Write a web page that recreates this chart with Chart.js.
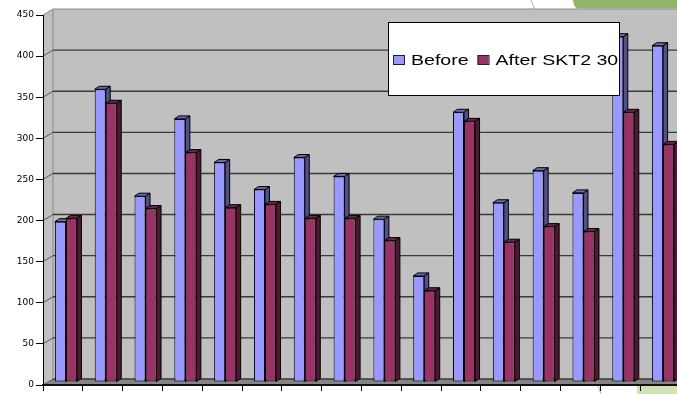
<!DOCTYPE html>
<html>
<head>
<meta charset="utf-8">
<script src="https://cdn.jsdelivr.net/npm/chart.js@4.4.1/dist/chart.umd.min.js"></script>
<style>
  html, body { margin: 0; padding: 0; background: #fff; overflow: hidden; width: 677px; height: 394px; }
  #wrap { position: relative; width: 700px; height: 394px; }
  canvas { display: block; }
</style>
</head>
<body>
<div id="wrap"><canvas id="chart" width="700" height="394"></canvas></div>
<script>
// Sixteen measurement points, before and after treatment
const categories = ['1', '2', '3', '4', '5', '6', '7', '8', '9', '10', '11', '12', '13', '14', '15', '16'];
const beforeValues = [195, 356, 226, 320, 267, 234, 273, 250, 198, 129, 328, 218, 257, 230, 420, 409];
const afterValues  = [199, 339, 211, 279, 212, 216, 199, 199, 172, 111, 317, 170, 189, 183, 328, 289];
const seriesNames = ['Before', 'After SKT2 30'];
const yTicks = [0, 50, 100, 150, 200, 250, 300, 350, 400, 450];

// Colour sets: front, top and side faces of each column
const palette = [
  { front: '#9999FF', top: '#6B6BB3', side: '#50508A' },
  { front: '#993366', top: '#6B2447', side: '#4D1A33' }
];

// 3D projection: wall depth, position of the columns in depth, column depth
const WALL = { x: 10, y: -6 };
const SHIFT = { x: 3, y: -3 };
const COL = { x: 4.5, y: -3 };

function poly(ctx, pts, fill, stroke, lw) {
  ctx.beginPath();
  ctx.moveTo(pts[0][0], pts[0][1]);
  for (let i = 1; i < pts.length; i++) ctx.lineTo(pts[i][0], pts[i][1]);
  ctx.closePath();
  if (fill) { ctx.fillStyle = fill; ctx.fill(); }
  if (stroke) { ctx.strokeStyle = stroke; ctx.lineWidth = lw || 1; ctx.stroke(); }
}

// Walls, floor and back-wall gridlines
const walls = {
  id: 'walls',
  beforeDraw(chart) {
    const { ctx, chartArea: a, scales: { y } } = chart;
    const L = a.left, R = a.right, T = a.top, B = a.bottom;
    const dx = WALL.x, dy = WALL.y;
    ctx.save();

    // background decoration
    ctx.fillStyle = '#8fb66a';
    ctx.beginPath();
    ctx.moveTo(573, 0); ctx.lineTo(700, 0); ctx.lineTo(700, 8.5); ctx.lineTo(578, 8.5);
    ctx.quadraticCurveTo(574, 8.5, 573, 0);
    ctx.fill();
    ctx.fillStyle = '#cfe4b2';
    ctx.fillRect(637, 386, 63, 8);
    ctx.strokeStyle = '#b5b5b5'; ctx.lineWidth = 1;
    ctx.beginPath(); ctx.moveTo(531, 0); ctx.lineTo(534.5, 9); ctx.stroke();
    ctx.beginPath(); ctx.moveTo(598, 386); ctx.lineTo(601, 394); ctx.stroke();

    // back wall
    ctx.fillStyle = '#c0c0c0';
    ctx.fillRect(L + dx, T + dy, R - L + 20, B - T);
    // side wall
    poly(ctx, [[L, T], [L + dx, T + dy], [L + dx, B + dy], [L, B]], '#c0c0c0');
    // floor
    poly(ctx, [[L, B], [L + dx, B + dy], [R + dx + 20, B + dy], [R + 20, B]], '#858585');

    // wall edges
    ctx.strokeStyle = '#8a8a8a'; ctx.lineWidth = 1;
    ctx.beginPath();
    ctx.moveTo(L, T); ctx.lineTo(L + dx, T + dy); ctx.lineTo(R + dx + 20, T + dy);
    ctx.moveTo(L + dx, T + dy); ctx.lineTo(L + dx, B + dy);
    ctx.stroke();

    // gridlines: diagonal on the side wall, horizontal on the back wall
    yTicks.forEach(v => {
      if (v === yTicks[yTicks.length - 1]) return;
      const py = y.getPixelForValue(v);
      ctx.strokeStyle = '#555';
      ctx.lineWidth = 1;
      ctx.beginPath(); ctx.moveTo(L, py); ctx.lineTo(L + dx, py + dy); ctx.stroke();
      ctx.strokeStyle = '#3a3a3a';
      ctx.lineWidth = 1.4;
      ctx.beginPath(); ctx.moveTo(L + dx, py + dy); ctx.lineTo(R + dx + 20, py + dy); ctx.stroke();
    });
    ctx.restore();
  }
};

// Columns: extruded top and side faces, then the library draws the front faces
const columns3d = {
  id: 'columns3d',
  beforeDatasetsDraw(chart) {
    const ctx = chart.ctx;
    ctx.save();
    ctx.translate(SHIFT.x, SHIFT.y);
    chart.data.datasets.forEach((ds, i) => {
      const meta = chart.getDatasetMeta(i);
      const col = palette[i];
      meta.data.forEach(bar => {
        const { x, y, base, width } = bar.getProps(['x', 'y', 'base', 'width'], true);
        const l = x - width / 2, r = x + width / 2;
        poly(ctx, [[l, y], [l + COL.x, y + COL.y], [r + COL.x, y + COL.y], [r, y]], col.top, '#000', 1);
        poly(ctx, [[r, y], [r + COL.x, y + COL.y], [r + COL.x, base + COL.y], [r, base]], col.side, '#000', 1);
      });
    });
  },
  afterDatasetsDraw(chart) {
    chart.ctx.restore();
  }
};

// Boxed legend over the plot; the labels use a horizontally widened sans face
const boxLegend = {
  id: 'boxLegend',
  afterDraw(chart) {
    const ctx = chart.ctx;
    const bx = 388, by = 22, bw = 232, bh = 74;
    const widen = 1.26;
    ctx.save();
    ctx.fillStyle = '#fff';
    ctx.fillRect(bx, by, bw, bh);
    ctx.strokeStyle = '#000'; ctx.lineWidth = 1;
    ctx.strokeRect(bx + 0.5, by + 0.5, bw - 1, bh - 1);
    ctx.font = '15.5px "Liberation Sans", Arial, sans-serif';
    ctx.textBaseline = 'alphabetic';
    let cx = bx + 5;
    chart.data.datasets.forEach((ds, i) => {
      ctx.fillStyle = palette[i].front;
      ctx.fillRect(cx, 55, 11, 9);
      ctx.strokeStyle = '#222';
      ctx.strokeRect(cx + 0.5, 55.5, 11, 9);
      ctx.fillStyle = '#000';
      ctx.save();
      ctx.translate(cx + 18, 64.5);
      ctx.scale(widen, 1);
      ctx.fillText(ds.label, 0, 0);
      ctx.restore();
      cx += 18 + ctx.measureText(ds.label).width * widen + 9;
    });
    ctx.restore();
  }
};

new Chart(document.getElementById('chart'), {
  type: 'bar',
  data: {
    labels: categories,
    datasets: [
      { label: seriesNames[0], data: beforeValues, backgroundColor: palette[0].front },
      { label: seriesNames[1], data: afterValues, backgroundColor: palette[1].front }
    ]
  },
  options: {
    responsive: false,
    devicePixelRatio: 1,
    animation: false,
    events: [],
    layout: { padding: { top: 15, bottom: 3, left: 0, right: 20 } },
    datasets: {
      bar: {
        borderColor: '#000',
        borderWidth: 1,
        borderSkipped: false,
        categoryPercentage: 0.553,
        barPercentage: 1,
        clip: false
      }
    },
    plugins: {
      legend: { display: false },
      tooltip: { enabled: false }
    },
    scales: {
      x: {
        offset: true,
        grid: { offset: true, drawOnChartArea: false, drawTicks: true, tickLength: 6, color: '#000', lineWidth: 1 },
        ticks: { display: false },
        border: { display: true, color: '#111', width: 2 }
      },
      y: {
        min: 0,
        max: 450,
        afterFit(scale) { scale.width = 43; },
        afterBuildTicks(scale) { scale.ticks = yTicks.map(v => ({ value: v })); },
        ticks: { color: '#000', padding: 2, font: { family: 'DejaVu Sans', size: 9 } },
        grid: { drawOnChartArea: false, drawTicks: true, tickLength: 7, color: '#000', lineWidth: 1 },
        border: { display: true, color: '#000', width: 1 }
      }
    }
  },
  plugins: [walls, columns3d, boxLegend]
});
</script>
</body>
</html>
